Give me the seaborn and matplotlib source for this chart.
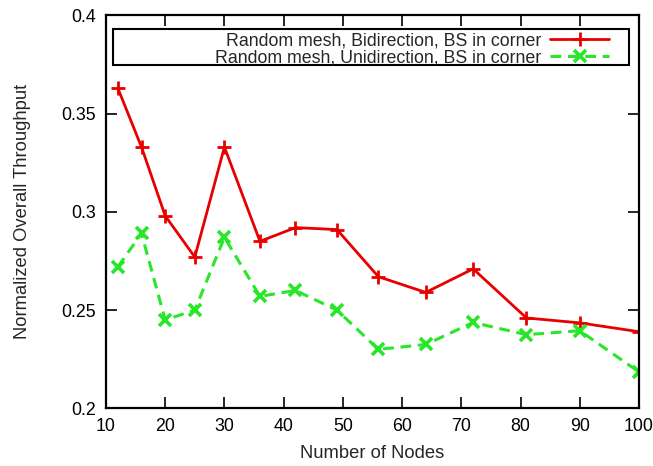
import matplotlib
matplotlib.use("Agg")
import matplotlib.pyplot as plt
import seaborn as sns
import pandas as pd
from matplotlib.patches import Rectangle

nodes = [12, 16, 20, 25, 30, 36, 42, 49, 56, 64, 72, 81, 90, 100]
bidirection = [0.363, 0.333, 0.298, 0.277, 0.333, 0.285, 0.292, 0.291, 0.267, 0.259, 0.271, 0.246, 0.2435, 0.239]
unidirection = [0.272, 0.289, 0.245, 0.250, 0.287, 0.257, 0.260, 0.250, 0.230, 0.2325, 0.2437, 0.2375, 0.2395, 0.2185]
label_bi = "Random mesh, Bidirection, BS in corner"
label_uni = "Random mesh, Unidirection, BS in corner"
xticks = [10, 20, 30, 40, 50, 60, 70, 80, 90, 100]
yticks = [0.2, 0.25, 0.3, 0.35, 0.4]
ytick_labels = ["0.2", "0.25", "0.3", "0.35", "0.4"]

RED = "#e80000"
GREEN = "#28e628"
FS = 12.8

sns.set_theme(style="ticks")
plt.rcParams['font.family'] = ['Liberation Sans', 'DejaVu Sans']

fig = plt.figure(figsize=(6.53, 4.66), dpi=100)
ax = fig.add_axes([0.1623, 0.1238, 0.8162, 0.843])

df = pd.DataFrame({"nodes": nodes, "bi": bidirection, "uni": unidirection})
sns.lineplot(data=df, x="nodes", y="bi", ax=ax, color=RED, lw=2.0,
             marker="+", markersize=10, markeredgewidth=2.0,
             markeredgecolor=RED, markerfacecolor=RED, label=label_bi)
sns.lineplot(data=df, x="nodes", y="uni", ax=ax, color=GREEN, lw=2.2,
             linestyle=(0, (3.5, 2.2)), marker="x", markersize=8, markeredgewidth=2.6,
             markeredgecolor=GREEN, markerfacecolor=GREEN, label=label_uni)

ax.set_xlim(10, 100)
ax.set_ylim(0.2, 0.4)
ax.set_xticks(xticks)
ax.set_yticks(yticks)
ax.set_yticklabels(ytick_labels)
ax.tick_params(direction="in", length=8, width=1.2, top=True, right=True,
               labelsize=FS, colors="black")
ax.tick_params(axis="x", pad=7)
ax.tick_params(axis="y", pad=7)
for s in ax.spines.values():
    s.set_linewidth(1.6)
    s.set_color("black")
ax.set_xlabel("Number of Nodes", fontsize=13.2, labelpad=7)
ax.set_ylabel("Normalized Overall Throughput", fontsize=13.2, labelpad=22)

leg = ax.legend(loc="upper right", bbox_to_anchor=(0.9606, 0.980), markerfirst=False,
                frameon=False, fontsize=FS, handlelength=3.3, labelspacing=0.02,
                borderpad=0.0, handletextpad=0.5, numpoints=1)
ax.add_patch(Rectangle((0.0126, 0.873), 0.9694, 0.093, transform=ax.transAxes,
                       fill=False, edgecolor="black", lw=1.5, zorder=5))

fig.savefig("out.png", dpi=100)
